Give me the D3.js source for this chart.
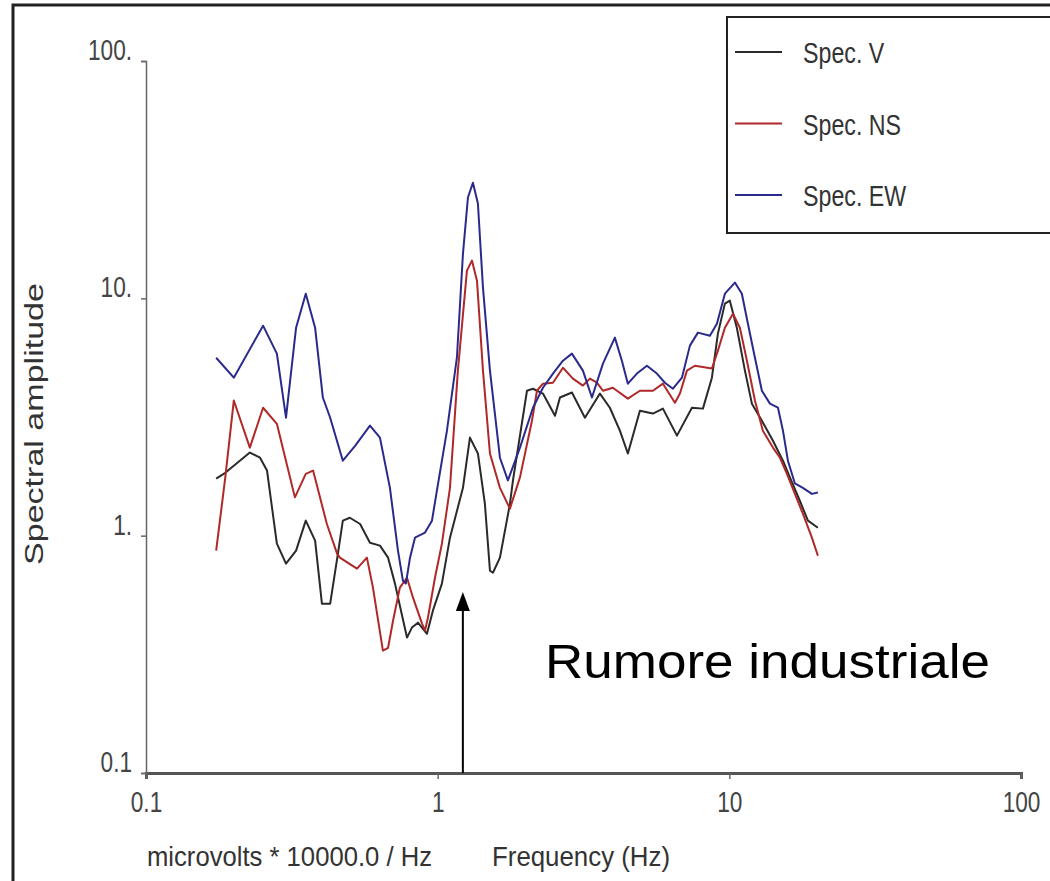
<!DOCTYPE html>
<html>
<head>
<meta charset="utf-8">
<script src="https://cdn.jsdelivr.net/npm/d3@7"></script>
<style>
  html, body { margin: 0; padding: 0; background: #fff; }
  svg { display: block; }
</style>
</head>
<body>
<div id="chart"></div>
<script>
// ---- data ----
const freqV = [0.174, 0.187, 0.227, 0.246, 0.260, 0.281, 0.302, 0.327, 0.353, 0.380, 0.401, 0.428, 0.455, 0.473, 0.500, 0.542, 0.586, 0.634, 0.676, 0.714, 0.742, 0.785, 0.816, 0.856, 0.919, 0.963, 1.034, 1.102, 1.221, 1.290, 1.374, 1.452, 1.511, 1.547, 1.635, 1.769, 1.812, 2.024, 2.122, 2.296, 2.525, 2.626, 2.886, 3.198, 3.600, 3.894, 4.214, 4.489, 4.936, 5.470, 5.920, 6.613, 7.443, 8.118, 8.715, 9.137, 9.656, 10.04, 10.61, 11.31, 11.95, 12.93, 14.11, 15.27, 16.13, 17.46, 18.60, 20.12];
const specV = [1.74, 1.84, 2.24, 2.13, 1.88, 0.925, 0.762, 0.865, 1.157, 0.953, 0.517, 0.517, 0.840, 1.157, 1.19, 1.12, 0.934, 0.908, 0.808, 0.628, 0.507, 0.372, 0.410, 0.430, 0.386, 0.483, 0.628, 0.981, 1.59, 2.59, 2.22, 1.36, 0.712, 0.698, 0.808, 1.36, 1.71, 4.08, 4.16, 3.97, 3.20, 3.82, 4.01, 3.14, 3.97, 3.46, 2.77, 2.22, 3.36, 3.27, 3.43, 2.64, 3.46, 3.43, 4.63, 7.10, 9.50, 9.78, 7.52, 4.96, 3.60, 3.05, 2.51, 2.07, 1.76, 1.40, 1.157, 1.08];

const freqNS = [0.174, 0.187, 0.200, 0.227, 0.252, 0.281, 0.324, 0.353, 0.374, 0.417, 0.452, 0.462, 0.529, 0.572, 0.600, 0.649, 0.676, 0.703, 0.742, 0.785, 0.823, 0.884, 0.905, 0.926, 0.979, 1.034, 1.102, 1.173, 1.260, 1.311, 1.364, 1.430, 1.511, 1.635, 1.769, 1.915, 2.105, 2.190, 2.296, 2.485, 2.689, 2.909, 3.148, 3.327, 3.516, 3.687, 3.987, 4.489, 4.936, 5.470, 5.920, 6.509, 6.771, 7.155, 7.621, 8.715, 9.137, 9.656, 10.29, 10.87, 11.49, 12.24, 13.03, 14.11, 14.91, 15.76, 16.78, 17.87, 19.19, 20.12];
const specNS = [0.865, 1.76, 3.71, 2.35, 3.46, 2.96, 1.45, 1.82, 1.88, 1.12, 0.840, 0.808, 0.726, 0.808, 0.604, 0.328, 0.337, 0.438, 0.604, 0.665, 0.548, 0.426, 0.398, 0.451, 0.665, 0.925, 1.59, 4.96, 13.08, 14.42, 11.87, 4.96, 2.22, 1.59, 1.30, 1.76, 3.05, 4.08, 4.37, 4.41, 5.10, 4.59, 4.29, 4.59, 4.41, 4.08, 4.20, 3.78, 4.08, 4.08, 4.37, 3.63, 3.97, 4.96, 5.20, 5.06, 6.02, 7.52, 8.62, 7.52, 5.46, 3.71, 2.77, 2.35, 2.13, 1.82, 1.50, 1.238, 0.981, 0.823];

const freqEW = [0.174, 0.200, 0.252, 0.281, 0.302, 0.327, 0.353, 0.380, 0.404, 0.428, 0.473, 0.521, 0.586, 0.634, 0.686, 0.731, 0.760, 0.778, 0.804, 0.836, 0.905, 0.956, 0.994, 1.076, 1.164, 1.221, 1.270, 1.321, 1.374, 1.430, 1.511, 1.635, 1.741, 1.915, 2.122, 2.296, 2.485, 2.689, 2.886, 3.148, 3.380, 3.687, 4.051, 4.281, 4.489, 4.821, 5.217, 5.646, 6.013, 6.407, 6.879, 7.326, 7.804, 8.579, 9.066, 9.656, 10.45, 11.04, 11.58, 12.24, 12.93, 13.78, 14.68, 15.27, 15.88, 16.78, 17.87, 19.19, 20.12];
const specEW = [5.62, 4.63, 7.67, 5.85, 3.14, 7.52, 10.46, 7.52, 3.82, 3.14, 2.07, 2.39, 2.91, 2.59, 1.59, 0.865, 0.646, 0.628, 0.808, 0.981, 1.03, 1.157, 1.548, 2.77, 5.62, 15.43, 26.6, 30.7, 25.1, 11.09, 4.96, 2.13, 1.71, 2.35, 3.46, 4.20, 4.82, 5.46, 5.85, 4.96, 3.82, 5.31, 6.83, 5.46, 4.37, 4.82, 5.20, 4.82, 4.41, 4.16, 4.63, 6.32, 7.17, 6.96, 7.82, 10.46, 11.65, 10.46, 7.82, 5.62, 4.08, 3.60, 3.46, 2.77, 2.07, 1.66, 1.59, 1.50, 1.52];

const seriesNames = ["Spec. V", "Spec. NS", "Spec. EW"];
const xTicks = [0.1, 1, 10, 100];
const yTicks = [0.1, 1, 10, 100];
const xTickLabels = ["0.1", "1", "10", "100"];
const yTickLabels = ["0.1", "1.", "10.", "100."];
const arrowFreq = 1.22;

// ---- layout ----
const W = 1050, H = 881;
const narrow = "'Liberation Sans Narrow', 'Arial Narrow', 'Liberation Sans', sans-serif";
const sans = "'Liberation Sans', Arial, sans-serif";

// squeeze a text horizontally (no narrow font installed)
function condense(sel, k) {
    sel.each(function () {
        const len = this.getComputedTextLength();
        d3.select(this)
            .attr("textLength", len * k)
            .attr("lengthAdjust", "spacingAndGlyphs");
    });
}

const svg = d3.select("#chart").append("svg")
    .attr("width", W)
    .attr("height", H);

svg.append("rect").attr("width", W).attr("height", H).attr("fill", "#fff");

// outer frame
svg.append("rect")
    .attr("x", 13).attr("y", 5)
    .attr("width", W + 20).attr("height", H + 20)
    .attr("fill", "none")
    .attr("stroke", "#222")
    .attr("stroke-width", 3);

const x = d3.scaleLog().domain([0.1, 100]).range([146, 1021]);
const y = d3.scaleLog().domain([0.1, 100]).range([773, 61]);

// axes
const xAxis = svg.append("g")
    .attr("transform", `translate(0,${y(0.1)})`)
    .call(d3.axisBottom(x).tickValues(xTicks).tickFormat((d, i) => xTickLabels[i]).tickSize(6).tickPadding(12));

xAxis.select(".domain").attr("stroke", "#555").attr("stroke-width", 3);
xAxis.selectAll(".tick line").attr("stroke", "#666").attr("stroke-width", 1.5);
xAxis.selectAll(".tick text")
    .attr("fill", "#444")
    .style("font-family", narrow)
    .style("font-size", "29px")
    .call(condense, 0.78);

const yAxis = svg.append("g")
    .attr("transform", `translate(${x(0.1)},0)`)
    .call(d3.axisLeft(y).tickValues(yTicks).tickFormat((d, i) => yTickLabels[i]).tickSize(5).tickPadding(9));

yAxis.select(".domain").attr("stroke", "#666").attr("stroke-width", 1.5);
yAxis.selectAll(".tick line").attr("stroke", "#666").attr("stroke-width", 1.5);
yAxis.selectAll(".tick text")
    .attr("fill", "#444")
    .attr("dy", "-0.05em")
    .style("font-family", narrow)
    .style("font-size", "29px")
    .call(condense, 0.78);

// y axis title
svg.append("text")
    .attr("transform", "translate(43,424) rotate(-90)")
    .attr("text-anchor", "middle")
    .attr("fill", "#333")
    .attr("textLength", 282)
    .attr("lengthAdjust", "spacingAndGlyphs")
    .style("font-family", sans)
    .style("font-size", "25px")
    .text("Spectral amplitude");

// bottom captions
svg.append("text")
    .attr("x", 147).attr("y", 866)
    .attr("fill", "#333")
    .attr("textLength", 285)
    .attr("lengthAdjust", "spacingAndGlyphs")
    .style("font-family", narrow)
    .style("font-size", "28px")
    .text("microvolts * 10000.0 / Hz");

svg.append("text")
    .attr("x", 492).attr("y", 866)
    .attr("fill", "#333")
    .attr("textLength", 178)
    .attr("lengthAdjust", "spacingAndGlyphs")
    .style("font-family", narrow)
    .style("font-size", "28px")
    .text("Frequency (Hz)");

// curves
const colors = ["#2a2a2a", "#b02828", "#2a2a8c"];
const series = [
    { name: seriesNames[0], f: freqV, a: specV },
    { name: seriesNames[1], f: freqNS, a: specNS },
    { name: seriesNames[2], f: freqEW, a: specEW }
];

const line = d3.line()
    .x(d => x(d[0]))
    .y(d => y(d[1]));

svg.append("g")
    .selectAll("path")
    .data(series)
    .enter()
    .append("path")
    .attr("d", d => line(d.f.map((f, i) => [f, d.a[i]])))
    .attr("fill", "none")
    .attr("stroke", (d, i) => colors[i])
    .attr("stroke-width", 2)
    .attr("stroke-linejoin", "round");

// arrow
const ax = x(arrowFreq);
svg.append("line")
    .attr("x1", ax).attr("x2", ax)
    .attr("y1", y(0.1)).attr("y2", 608)
    .attr("stroke", "#000")
    .attr("stroke-width", 2);
svg.append("path")
    .attr("d", `M${ax},592 L${ax - 7},611 L${ax + 7},611 Z`)
    .attr("fill", "#000");

svg.append("text")
    .attr("x", 545).attr("y", 678)
    .attr("fill", "#000")
    .attr("textLength", 445)
    .attr("lengthAdjust", "spacingAndGlyphs")
    .style("font-family", sans)
    .style("font-size", "49px")
    .text("Rumore industriale");

// legend
const legend = svg.append("g").attr("transform", "translate(727,17)");
legend.append("rect")
    .attr("width", 360).attr("height", 216)
    .attr("fill", "#fff")
    .attr("stroke", "#222")
    .attr("stroke-width", 2);

series.forEach((s, i) => {
    const g = legend.append("g").attr("transform", `translate(0, ${35 + i * 71.5})`);
    g.append("line")
        .attr("x1", 8).attr("x2", 55)
        .attr("stroke", colors[i])
        .attr("stroke-width", 2);
    g.append("text")
        .attr("x", 76).attr("y", 11)
        .attr("fill", "#333")
        .style("font-family", narrow)
        .style("font-size", "29px")
        .text(s.name)
        .call(condense, 0.8);
});
</script>
</body>
</html>
